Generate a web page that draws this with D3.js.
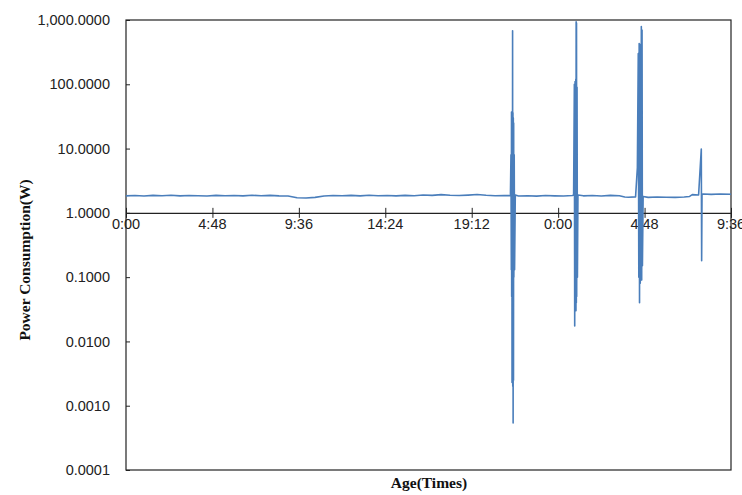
<!DOCTYPE html>
<html>
<head>
<meta charset="utf-8">
<script src="https://cdn.jsdelivr.net/npm/d3@7"></script>
<style>
  body { margin: 0; background: #fff; }
  .tick-label { font-family: "Liberation Sans", Arial, sans-serif; font-size: 14.5px; fill: #222; }
  .axis-title { font-family: "Liberation Serif", "Times New Roman", serif; font-size: 15.5px; font-weight: bold; fill: #111; }
</style>
</head>
<body>
<div id="chart"></div>
<script>
// Elapsed time in hours since 0:00 of the first day, and the measured power (W)
const hours = [
  0, 0.5, 1, 1.5, 2, 2.5, 3, 3.5, 4, 4.5, 5, 5.5, 6, 6.5, 7, 7.5, 8, 8.5, 9, 9.5,
  10, 10.5, 11, 11.5, 12, 12.5, 13, 13.5, 14, 14.5, 15, 15.5, 16, 16.5, 17, 17.5,
  18, 18.5, 19, 19.5, 20, 20.5, 21, 21.35,
  // first spike
  21.38, 21.40, 21.41, 21.42, 21.43, 21.44, 21.45, 21.46, 21.47, 21.48, 21.49, 21.50,
  21.51, 21.52, 21.53, 21.54, 21.56, 21.58, 21.62,
  21.8, 22.3, 22.8, 23.3, 23.8, 24.3, 24.8,
  // second spike
  24.86, 24.9, 24.92, 24.94, 24.95, 24.96, 24.97, 24.98, 24.99, 25.0, 25.01, 25.02,
  25.03, 25.05, 25.07, 25.1,
  25.4, 25.9, 26.4, 26.9, 27.4, 27.7, 27.9, 28.3,
  // third spike
  28.40, 28.45, 28.48, 28.50, 28.52, 28.54, 28.56, 28.58, 28.60, 28.62, 28.64, 28.66,
  28.68, 28.72,
  29.0, 29.5, 30.0, 30.5, 31.0, 31.3, 31.45, 31.8,
  // fourth spike
  31.95, 31.97, 31.99, 32.05,
  32.5, 33.0, 33.6
];
const watts = [
  1.84, 1.86, 1.83, 1.87, 1.85, 1.88, 1.84, 1.86, 1.85, 1.83, 1.87, 1.85, 1.86, 1.84, 1.88, 1.85, 1.87, 1.84, 1.83, 1.72,
  1.70, 1.74, 1.83, 1.86, 1.85, 1.87, 1.84, 1.88, 1.85, 1.86, 1.84, 1.87, 1.85, 1.90, 1.87, 1.92,
  1.88, 1.86, 1.89, 1.93, 1.88, 1.85, 1.86, 1.85,
  8, 0.13, 37, 0.05, 30, 0.0023, 35, 0.003, 680, 0.002, 36, 0.00054,
  30, 0.0025, 25, 0.1, 8, 0.13, 1.9,
  1.83, 1.85, 1.82, 1.86, 1.84, 1.83, 1.86,
  1.9, 100, 0.0174, 110, 0.03, 100, 0.034, 120, 0.03, 940, 0.04, 900,
  0.05, 90, 0.1, 1.9,
  1.84, 1.86, 1.83, 1.87, 1.85, 1.76, 1.75, 1.77,
  5, 300, 0.1, 430, 0.04, 400, 0.08, 420, 0.1, 790, 0.09, 700,
  0.15, 1.8,
  1.74, 1.76, 1.75, 1.74, 1.76, 1.80, 1.92, 1.90,
  9.8, 0.18, 1.95, 1.96,
  1.94, 1.97, 1.95
];

const yTicks = [1000, 100, 10, 1, 0.1, 0.01, 0.001, 0.0001];
const xTicks = [0, 4.8, 9.6, 14.4, 19.2, 24, 28.8, 33.6];
const xTickLabels = ["0:00", "4:48", "9:36", "14:24", "19:12", "0:00", "4:48", "9:36"];

const W = 742, H = 495;
const margin = { top: 20, right: 11, bottom: 25, left: 126 };
const width = W - margin.left - margin.right;
const height = H - margin.top - margin.bottom;

const svg = d3.select("#chart")
  .append("svg")
  .attr("width", W)
  .attr("height", H);

const g = svg.append("g")
  .attr("transform", `translate(${margin.left},${margin.top})`);

const x = d3.scaleLinear().domain([0, 33.6]).range([0, width]);
const y = d3.scaleLog().domain([0.0001, 1000]).range([height, 0]);

// Plot frame
g.append("rect")
  .attr("width", width)
  .attr("height", height)
  .attr("fill", "none")
  .attr("stroke", "#222")
  .attr("stroke-width", 1.2);

// Y axis: small inside ticks, labels on the left
const yAxis = g.append("g")
  .call(d3.axisRight(y).tickValues(yTicks).tickSize(4).tickFormat(""));
yAxis.select(".domain").remove();
yAxis.selectAll("line").attr("stroke", "#222");

g.selectAll(".ylab")
  .data(yTicks)
  .enter()
  .append("text")
  .attr("class", "tick-label")
  .attr("x", -16)
  .attr("y", d => y(d))
  .attr("dy", "0.35em")
  .attr("text-anchor", "end")
  .text(d => d3.format(",.4f")(d));

// X axis crosses at 1 W
const xAxis = g.append("g")
  .attr("transform", `translate(0,${y(1)})`)
  .call(d3.axisBottom(x).tickValues(xTicks).tickSize(5).tickSizeOuter(0).tickFormat(""));
xAxis.select(".domain").attr("stroke", "#222").attr("stroke-width", 1.2);
xAxis.selectAll(".tick line").attr("y1", -5).attr("y2", 5).attr("stroke", "#222");

g.selectAll(".xlab")
  .data(xTicks)
  .enter()
  .append("text")
  .attr("class", "tick-label")
  .attr("x", d => x(d))
  .attr("y", y(1) + 16)
  .attr("text-anchor", "middle")
  .text((d, i) => xTickLabels[i]);

// Series
const line = d3.line()
  .x((d, i) => x(hours[i]))
  .y(d => y(d));

g.append("path")
  .datum(watts)
  .attr("fill", "none")
  .attr("stroke", "#4a7ebb")
  .attr("stroke-width", 1.6)
  .attr("stroke-linejoin", "round")
  .attr("d", line);

// Axis titles
svg.append("text")
  .attr("class", "axis-title")
  .attr("transform", "translate(30,260) rotate(-90)")
  .attr("text-anchor", "middle")
  .text("Power Consumption(W)");

svg.append("text")
  .attr("class", "axis-title")
  .attr("x", 429)
  .attr("y", 488)
  .attr("text-anchor", "middle")
  .text("Age(Times)");
</script>
</body>
</html>
